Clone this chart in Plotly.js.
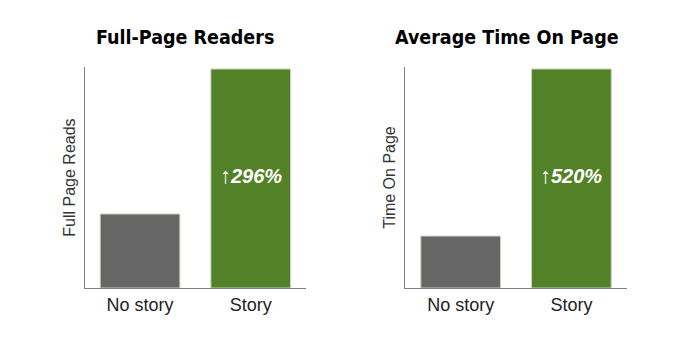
<!DOCTYPE html>
<html>
<head>
<meta charset="utf-8">
<script src="https://cdn.plot.ly/plotly-3.0.1.min.js"></script>
<style>html,body{margin:0;padding:0;background:#fff;}#chart{width:690px;height:340px;}</style>
</head>
<body>
<div id="chart"></div>
<script>
var categories = ["No story", "Story"];
var readersValues = [33.5, 99.1];
var timeValues = [23.5, 99.1];
var barColors = ["#666666", "#538128"];
var chartTitles = ["Full-Page Readers", "Average Time On Page"];
var yTitles = ["Full Page Reads", "Time On Page"];
var increaseLabels = ["296%", "520%"];

var baseFont = "Liberation Sans, Arial, Helvetica, sans-serif";
var titleFont = "Liberation Sans Narrow, DejaVu Sans Condensed, Arial Narrow, sans-serif";

var traces = [
  {type: "bar", x: categories, y: readersValues, xaxis: "x", yaxis: "y", width: 0.72,
   marker: {color: barColors, line: {color: "#c9d6bc", width: 1}}, hoverinfo: "none"},
  {type: "bar", x: categories, y: timeValues, xaxis: "x2", yaxis: "y2", width: 0.72,
   marker: {color: barColors, line: {color: "#c9d6bc", width: 1}}, hoverinfo: "none"}
];

function xax(domain) {
  return {domain: domain, range: [-0.5, 1.5], showline: true, linecolor: "#808080", linewidth: 1,
    ticks: "", showgrid: false, zeroline: false, fixedrange: true,
    tickfont: {family: baseFont, size: 18, color: "#222"}};
}
function yax(domain, anchor, title) {
  return {domain: domain, anchor: anchor, range: [0, 100], showline: true, linecolor: "#808080", linewidth: 1,
    showticklabels: false, ticks: "", showgrid: false, zeroline: false, fixedrange: true,
    title: {text: title, standoff: 4, font: {family: baseFont, size: 16, color: "#333"}}};
}

function pctLabel(t) {
  return "<b><span style='font-size:22px'>\u2191</span><i>" + t + "</i></b>";
}

var yDom = [0.1529, 0.8029];
var layout = {
  width: 690, height: 340, margin: {l: 0, r: 0, t: 0, b: 0},
  paper_bgcolor: "#fff", plot_bgcolor: "#fff", showlegend: false, bargap: 0,
  xaxis: Object.assign(xax([0.1228, 0.4435]), {anchor: "y"}),
  yaxis: yax(yDom, "x", yTitles[0]),
  xaxis2: Object.assign(xax([0.5874, 0.9083]), {anchor: "y2"}),
  yaxis2: yax(yDom, "x2", yTitles[1]),
  annotations: [
    {xref: "paper", yref: "paper", x: 185 / 690, y: 1 - 37 / 340, xanchor: "center", yanchor: "middle",
     text: "<b>" + chartTitles[0] + "</b>", showarrow: false, font: {family: titleFont, size: 19.5, color: "#000"}},
    {xref: "paper", yref: "paper", x: 507 / 690, y: 1 - 37 / 340, xanchor: "center", yanchor: "middle",
     text: "<b>" + chartTitles[1] + "</b>", showarrow: false, font: {family: titleFont, size: 19.5, color: "#000"}},
    {xref: "x", yref: "y", x: categories[1], y: 51, text: pctLabel(increaseLabels[0]),
     showarrow: false, font: {family: baseFont, size: 20, color: "#fff"}},
    {xref: "x2", yref: "y2", x: categories[1], y: 51, text: pctLabel(increaseLabels[1]),
     showarrow: false, font: {family: baseFont, size: 20, color: "#fff"}}
  ]
};

Plotly.newPlot("chart", traces, layout, {displayModeBar: false, staticPlot: true});
</script>
</body>
</html>
